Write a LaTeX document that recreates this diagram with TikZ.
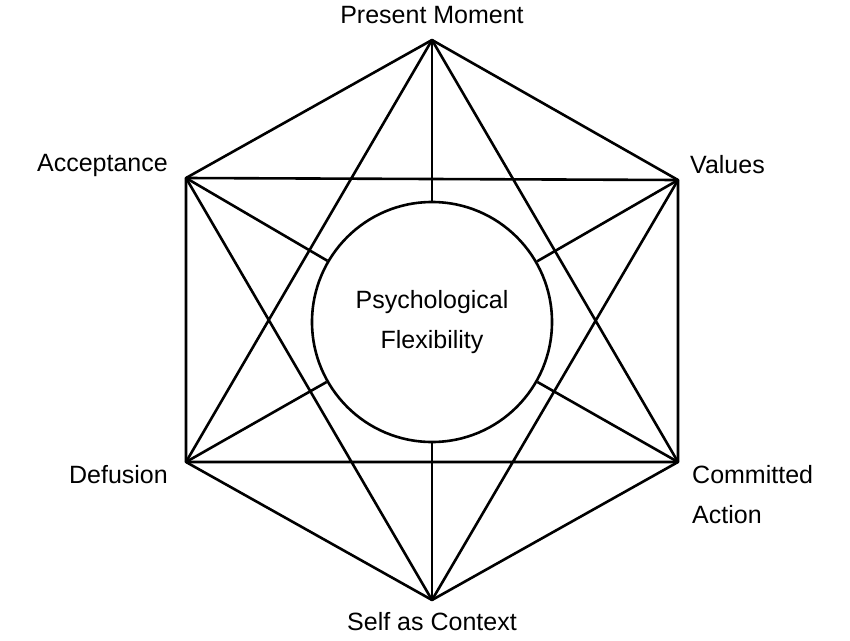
\documentclass[tikz,border=0pt]{standalone}
\usepackage{fontspec}
\setmainfont{Liberation Sans}
\begin{document}
\begin{tikzpicture}[x=1pt,y=-1pt,
  ln/.style={line width=2.6pt},
  lab/.style={font=\fontsize{25}{30}\selectfont, inner sep=0pt}]
\useasboundingbox (0,0) rectangle (850,640);
\coordinate (T) at (432,40);
\coordinate (UL) at (186,178);
\coordinate (UR) at (678,180);
\coordinate (LL) at (186,462);
\coordinate (LR) at (678,462);
\coordinate (B) at (432,600);
\node[circle, draw, ln, minimum size=240pt, inner sep=0pt, align=center,
  font=\fontsize{25}{40}\selectfont] (C) at (432,322) {Psychological\\Flexibility};
\draw[ln, line join=round] (T) -- (UR) -- (LR) -- (B) -- (LL) -- (UL) -- cycle;
\draw[ln] (T) -- (LL) (T) -- (LR) (UL) -- (UR) (UL) -- (B) (UR) -- (B) (LL) -- (LR);
\foreach \v in {T,UL,UR,LL,LR,B} \draw[ln] (\v) -- (C);
\node[lab] (l1) at (432,15) {Present Moment};
\node[lab, anchor=east] (l2) at (168,165) {Acceptance};
\node[lab, anchor=west] (l3) at (690,165) {Values};
\node[lab, anchor=east] (l4) at (168,475) {Defusion};
\node[lab, anchor=west, align=left, font=\fontsize{25}{40}\selectfont] (l5) at (692,495) {Committed\\Action};
\node[lab] (l6) at (432,622) {Self as Context};
\end{tikzpicture}
\end{document}
